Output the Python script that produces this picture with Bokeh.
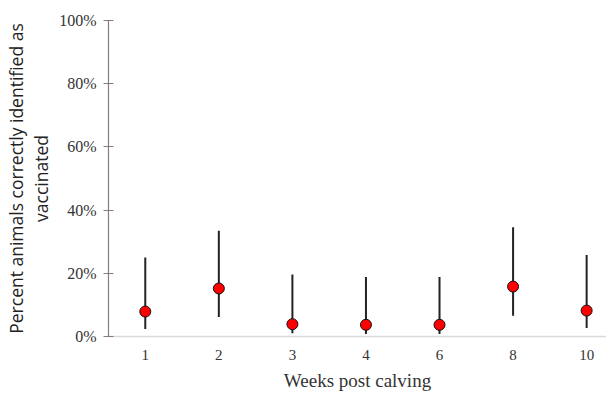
from bokeh.plotting import figure
from bokeh.models import Range1d, FixedTicker, PrintfTickFormatter
from bokeh.embed import file_html
from bokeh.resources import INLINE

# Data (percent)
weeks = ["1", "2", "3", "4", "6", "8", "10"]
estimate = [7.9, 15.2, 3.9, 3.7, 3.7, 15.8, 8.2]
ci_low = [2.4, 6.2, 1.0, 0.8, 0.8, 6.6, 2.7]
ci_high = [25.0, 33.5, 19.6, 18.8, 18.8, 34.6, 25.8]
y_ticks = [0, 20, 40, 60, 80, 100]

xpos = list(range(1, len(weeks) + 1))

p = figure(width=606, height=393, output_backend="svg", toolbar_location=None,
           x_range=Range1d(0.5, 7.27), y_range=Range1d(0, 100),
           min_border_left=100, min_border_right=0, min_border_top=20,
           min_border_bottom=0)
p.outline_line_color = None
p.xgrid.visible = False
p.ygrid.visible = False
p.background_fill_color = "white"
p.border_fill_color = "white"

p.segment(x0=xpos, y0=ci_low, x1=xpos, y1=ci_high, line_color="#222222", line_width=2)
p.scatter(x=xpos, y=estimate, size=11, fill_color="#ff0000", line_color="#111111", line_width=1)

serif = "Liberation Serif"

xa = p.xaxis[0]
xa.ticker = FixedTicker(ticks=xpos)
xa.major_label_overrides = {x: w for x, w in zip(xpos, weeks)}
xa.axis_line_color = "#d9d9d9"
xa.axis_line_width = 1.5
xa.major_tick_line_color = None
xa.minor_tick_line_color = None
xa.major_tick_out = 0
xa.major_tick_in = 0
xa.major_label_standoff = 13
xa.major_label_text_font = serif
xa.major_label_text_font_size = "15px"
xa.major_label_text_color = "#333333"
xa.axis_label = "Weeks post calving"
xa.axis_label_text_font = serif
xa.axis_label_text_font_size = "19px"
xa.axis_label_text_font_style = "normal"
xa.axis_label_text_color = "#333333"
xa.axis_label_standoff = 7

ya = p.yaxis[0]
ya.ticker = FixedTicker(ticks=y_ticks)
ya.formatter = PrintfTickFormatter(format="%d%%")
ya.axis_line_color = "#808080"
ya.axis_line_width = 1.2
ya.major_tick_line_color = "#808080"
ya.major_tick_in = 5
ya.major_tick_out = 5
ya.minor_tick_line_color = None
ya.major_label_standoff = 7
ya.major_label_text_font = serif
ya.major_label_text_font_size = "16px"
ya.major_label_text_color = "#333333"
ya.axis_label = "Percent animals correctly identified as\nvaccinated"
ya.axis_label_text_font = "Open Sans"
ya.axis_label_text_font_size = "17.5px"
ya.axis_label_text_font_style = "normal"
ya.axis_label_text_color = "#222222"
ya.axis_label_standoff = 3
ya.axis_label_text_line_height = 1.05

open("out.html", "w").write(file_html(p, INLINE))
